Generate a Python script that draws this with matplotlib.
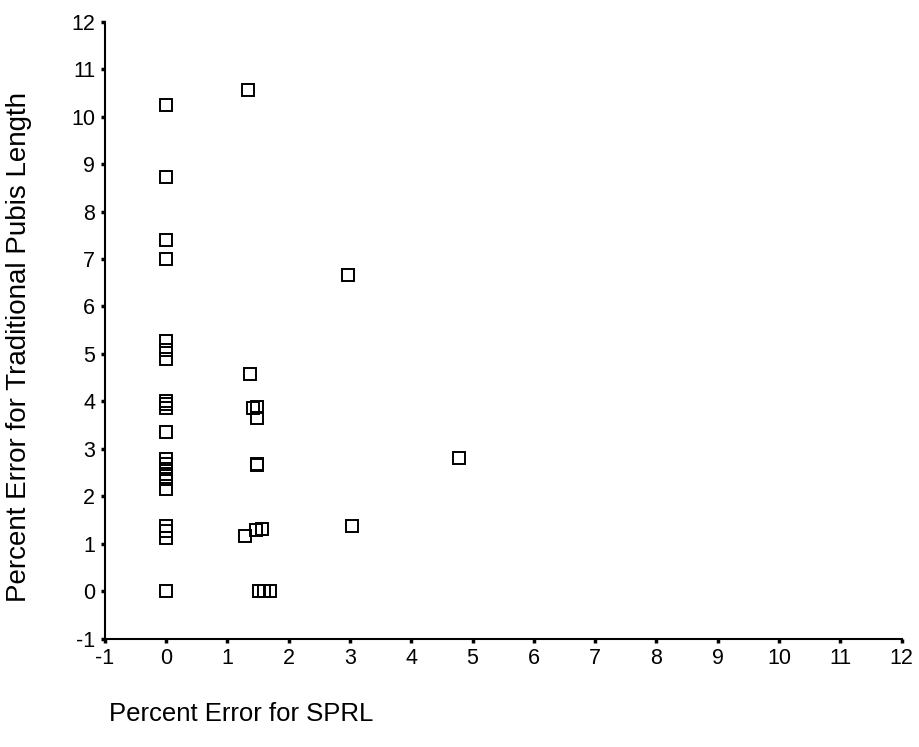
import matplotlib.pyplot as plt

plt.rcParams['font.family'] = ['Liberation Sans', 'DejaVu Sans']
plt.rcParams['axes.unicode_minus'] = False

# percent error for SPRL (x) vs traditional pubis length (y)
sprl_err = [0.0, 0.0, 0.0, 0.0,
            0.0, 0.0, 0.0,
            0.0, 0.0, 0.0, 0.0,
            0.0, 0.0, 0.0, 0.0, 0.0, 0.0,
            0.0, 0.0, 0.0, 0.0,
            1.33, 1.37, 1.41, 1.49, 1.49, 1.48, 1.48,
            1.29, 1.46, 1.56, 1.51, 1.60, 1.70,
            2.96, 3.04, 4.77]
pubis_err = [10.25, 8.72, 7.41, 7.01,
             5.27, 5.09, 4.90,
             4.01, 3.94, 3.85, 3.36,
             2.78, 2.67, 2.57, 2.46, 2.36, 2.15,
             1.37, 1.27, 1.13, 0.0,
             10.57, 4.57, 3.85, 3.89, 3.64, 2.66, 2.68,
             1.16, 1.28, 1.31, 0.0, 0.0, 0.0,
             6.67, 1.37, 2.80]

x_ticks = list(range(-1, 13))
y_ticks = list(range(-1, 13))

fig = plt.figure(figsize=(9.2, 7.47), dpi=100)
ax = fig.add_axes([0.114, 0.145, 0.866, 0.826])

ax.plot(sprl_err, pubis_err, linestyle='none', marker='s', markersize=8,
        markerfacecolor='none', markeredgecolor='black', markeredgewidth=1.4)

ax.set_xlim(-1, 12)
ax.set_ylim(-1, 12)
ax.set_xticks(x_ticks)
ax.set_yticks(y_ticks)
ax.tick_params(labelsize=15.5, length=3, width=2.5, direction='out', pad=4)

for s in ['top', 'right']:
    ax.spines[s].set_visible(False)
for s in ['left', 'bottom']:
    ax.spines[s].set_linewidth(1.5)

ax.set_ylabel('Percent Error for Traditional Pubis Length', fontsize=20)
ax.yaxis.set_label_coords(-0.091, 0.473)
fig.text(0.118, 0.035, 'Percent Error for SPRL', fontsize=18.5)

fig.savefig('out.png', dpi=100, facecolor='white')
